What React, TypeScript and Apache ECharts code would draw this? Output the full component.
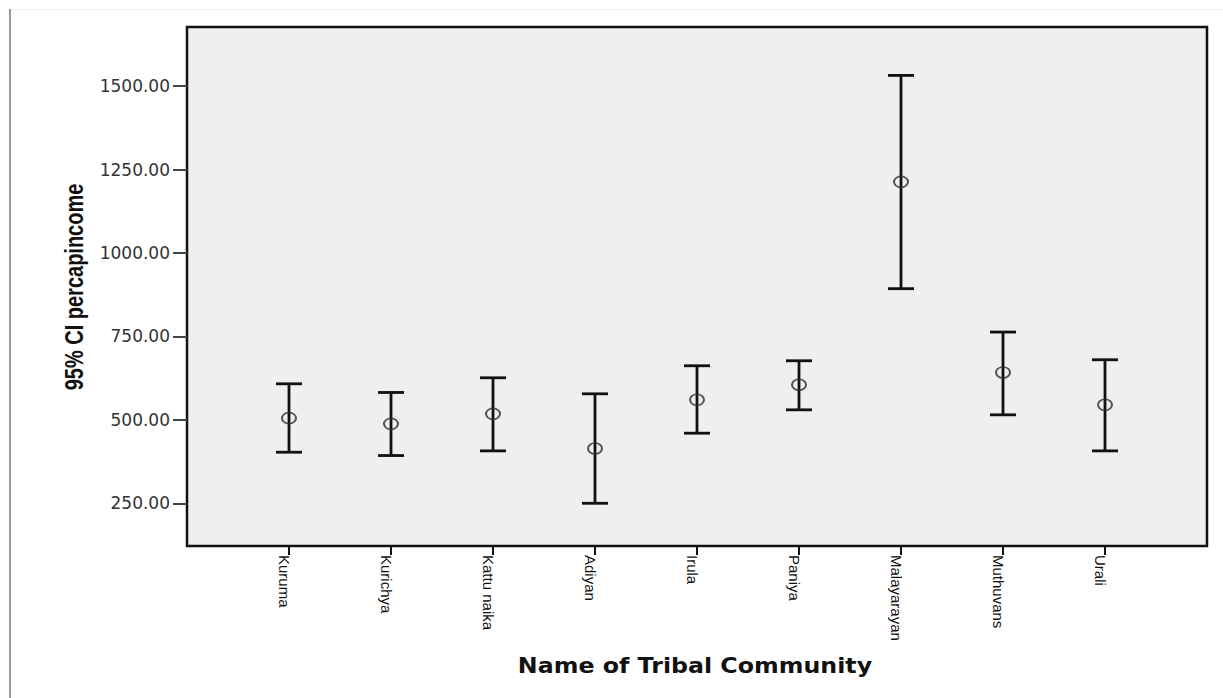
import React, { useEffect, useRef } from "react";
import * as echarts from "echarts";

const categories = [
  "Kuruma",
  "Kurichya",
  "Kattu naika",
  "Adiyan",
  "Irula",
  "Paniya",
  "Malayarayan",
  "Muthuvans",
  "Urali",
];
const means = [505, 488, 518, 414, 560, 605, 1213, 642, 545];
const lowerCI = [403, 393, 407, 250, 460, 530, 893, 515, 407];
const upperCI = [608, 582, 626, 578, 662, 677, 1532, 763, 680];
const yTickValues = [250, 500, 750, 1000, 1250, 1500];

const xTitle = "Name of Tribal Community";
const yTitle = "95% CI percapincome";

export default function App() {
  const ref = useRef<HTMLDivElement | null>(null);

  useEffect(() => {
    if (!ref.current) return;
    const chart = echarts.init(ref.current, null, { renderer: "svg" });
    const idx = categories.map((_, i) => i);
    const barData = categories.map((_, i) => [i, lowerCI[i], upperCI[i]]);
    const meanData = categories.map((_, i) => [i, means[i]]);

    const option: any = {
      animation: false,
      backgroundColor: "#ffffff",
      graphic: [
        {
          type: "line",
          shape: { x1: 10, y1: 9.5, x2: 1223, y2: 9.5 },
          style: { stroke: "#eeeeee", lineWidth: 1 },
          silent: true,
        },
        {
          type: "line",
          shape: { x1: 10, y1: 9, x2: 10, y2: 698 },
          style: { stroke: "#9a9a9a", lineWidth: 2 },
          silent: true,
        },
        {
          type: "text",
          x: 75,
          y: 287,
          rotation: Math.PI / 2,
          scaleX: 0.8,
          silent: true,
          style: {
            text: yTitle,
            fontFamily: "'Liberation Sans', Arial, sans-serif",
            fontWeight: "bold",
            fontSize: 25,
            fill: "#111111",
            align: "center",
            verticalAlign: "middle",
          },
        },
        {
          type: "text",
          x: 695,
          y: 666,
          scaleX: 1.13,
          silent: true,
          style: {
            text: xTitle,
            fontFamily: "'DejaVu Sans', sans-serif",
            fontWeight: "bold",
            fontSize: 21,
            fill: "#111111",
            align: "center",
            verticalAlign: "middle",
          },
        },
      ],
      grid: {
        left: 187,
        top: 27,
        width: 1020,
        height: 519,
        show: true,
        backgroundColor: "#efefef",
        borderColor: "#111111",
        borderWidth: 2.5,
      },
      xAxis: {
        type: "value",
        min: -1,
        max: 9,
        axisLine: { show: false, onZero: false },
        splitLine: { show: false },
        axisTick: {
          show: true,
          length: 9,
          customValues: idx,
          lineStyle: { color: "#111111", width: 2 },
        },
        axisLabel: {
          customValues: idx,
          formatter: (v: number) => categories[Math.round(v)] ?? "",
          rotate: -90,
          margin: 9,
          verticalAlign: "top",
          lineHeight: 10,
          fontFamily: "'Liberation Sans', Arial, sans-serif",
          fontSize: 15,
          color: "#111111",
        },
      },
      yAxis: {
        type: "value",
        min: 122,
        max: 1677,
        axisLine: { show: false, onZero: false },
        splitLine: { show: false },
        axisTick: {
          show: true,
          length: 14,
          customValues: yTickValues,
          lineStyle: { color: "#444444", width: 2 },
        },
        axisLabel: {
          customValues: yTickValues,
          formatter: (v: number) => v.toFixed(2),
          margin: 17,
          fontFamily: "'DejaVu Sans', sans-serif",
          fontSize: 17,
          color: "#333333",
        },
      },
      series: [
        {
          type: "custom",
          data: barData,
          z: 2,
          renderItem: (_params: any, api: any) => {
            const x = api.value(0);
            const lo = api.coord([x, api.value(1)]);
            const hi = api.coord([x, api.value(2)]);
            const hw = 13;
            const style = { stroke: "#111111", lineWidth: 2.8 };
            return {
              type: "group",
              children: [
                { type: "line", shape: { x1: lo[0], y1: lo[1], x2: hi[0], y2: hi[1] }, style },
                { type: "line", shape: { x1: lo[0] - hw, y1: lo[1], x2: lo[0] + hw, y2: lo[1] }, style },
                { type: "line", shape: { x1: hi[0] - hw, y1: hi[1], x2: hi[0] + hw, y2: hi[1] }, style },
              ],
            };
          },
        },
        {
          type: "scatter",
          data: meanData,
          z: 3,
          symbol: "path://M0,5a7,5 0 1,0 14,0a7,5 0 1,0 -14,0z",
          symbolSize: [14, 11],
          itemStyle: {
            color: "transparent",
            borderColor: "#2a2a2a",
            borderWidth: 1.8,
          },
        },
      ],
    };

    chart.setOption(option);
    return () => {
      chart.dispose();
    };
  }, []);

  return (
    <div
      ref={ref}
      style={{ position: "fixed", left: 0, top: 0, width: 1223, height: 698 }}
    />
  );
}
